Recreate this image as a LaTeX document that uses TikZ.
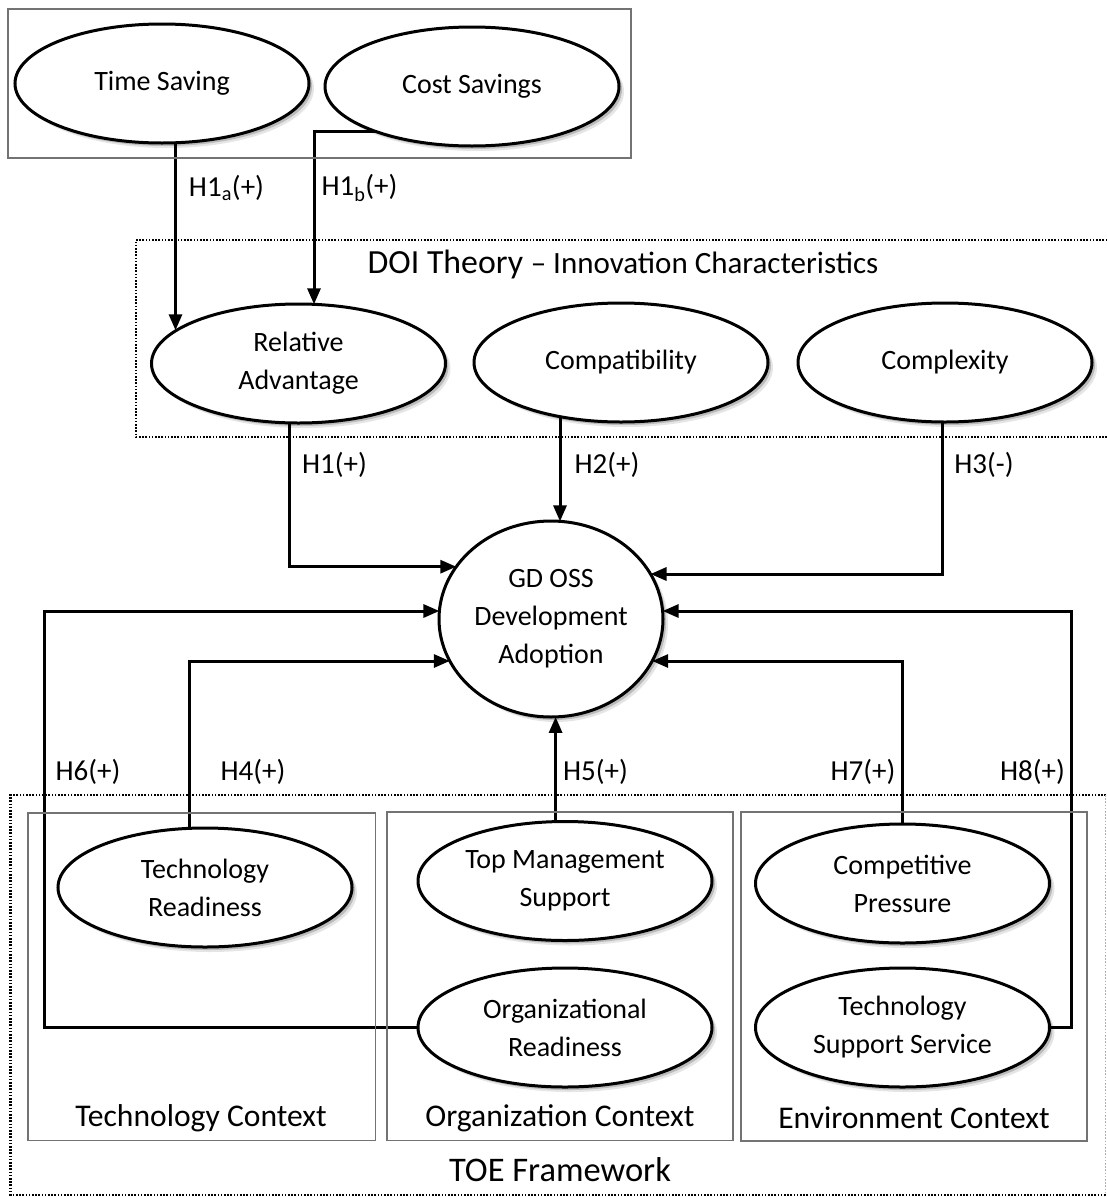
\documentclass[tikz,border=0pt]{standalone}
\usepackage{fontspec}
\setmainfont{Carlito}
\usetikzlibrary{shapes.geometric,arrows.meta,shadows,calc,backgrounds}
\begin{document}
\begin{tikzpicture}[x=1pt,y=-1pt,
  ell/.style={ellipse, draw, line width=3pt, fill=white, inner sep=0pt,
    minimum width=294pt, minimum height=119pt, align=center,
    font=\fontsize{28}{38}\selectfont,
    drop shadow={shadow xshift=5pt, shadow yshift=-5pt, opacity=0.10, fill=black},
    drop shadow={shadow xshift=3pt, shadow yshift=-3pt, opacity=0.18, fill=black}},
  arr/.style={line width=3pt, -{Triangle[length=16pt,width=13pt]}},
  lbl/.style={font=\fontsize{29}{32}\selectfont, inner sep=0pt},
  ctx/.style={draw=black!55, line width=1.8pt},
  dotbox/.style={draw=black, line width=2.6pt, dash pattern=on 1.6pt off 1.6pt},
  ctxlbl/.style={font=\fontsize{31.6}{34}\selectfont, inner sep=0pt}
]
\useasboundingbox (0,0) rectangle (1107,1197);

% frames
\draw[ctx] (8,9) rectangle (631,158);
\draw[dotbox] (1120,240) -- (136,240) -- (136,437) -- (1120,437);
\draw[dotbox] (1106,795) -- (10.6,795) -- (10.6,1195) -- (1106,1195);
\draw[draw=black!30, line width=1.6pt, dash pattern=on 1.6pt off 1.6pt] (1105.5,795) -- (1105.5,1195);
\draw[ctx] (28,813) rectangle (375.5,1140.5);
\draw[ctx] (387,812) rectangle (733,1140.5);
\draw[ctx] (741,812) rectangle (1087,1141);

% titles
\node[font=\fontsize{33.8}{36}\selectfont, inner sep=0pt] (doititle) at (623,264)
  {DOI Theory {\fontsize{31}{36}\selectfont – Innovation Characteristics}};
\node[ctxlbl] (tctx) at (201,1118) {Technology Context};
\node[ctxlbl] (octx) at (560,1118) {Organization Context};
\node[ctxlbl] (ectx) at (914,1118) {Environment Context};
\node[font=\fontsize{34.5}{36}\selectfont, inner sep=0pt] (toe) at (560,1170) {TOE Framework};

% ellipses
\node[ell] (TS) at (162,83.5) {Time Saving};
\node[ell] (CS) at (472,86.5) {Cost Savings};
\node[ell] (RA) at (298.5,363.5) {Relative\\Advantage};
\node[ell] (CP) at (621,362.5) {Compatibility};
\node[ell] (CX) at (945,362.5) {Complexity};
\node[ell, minimum width=224pt, minimum height=196pt] (GD) at (551,619) {GD OSS\\Development\\Adoption};
\node[ell] (TR) at (205,887.5) {Technology\\Readiness};
\node[ell] (TM) at (565,881) {Top Management\\Support};
\node[ell] (CPr) at (902.5,883.5) {Competitive\\Pressure};
\node[ell] (OR) at (565,1027.5) {Organizational\\Readiness};
\node[ell] (TSS) at (902.5,1027.5) {Technology\\Support Service};

% points on the target borders
\coordinate (ra1) at ($(RA.center)+(-121.5,-33.2)$);
\coordinate (ra2) at ($(RA.center)+(15.5,-59.2)$);
\coordinate (g1) at ($(GD.center)+(-94.7,-52.3)$);
\coordinate (g2) at ($(GD.center)+(9,-97.6)$);
\coordinate (g3) at ($(GD.center)+(99.5,-45)$);
\coordinate (g6) at ($(GD.center)+(-111.6,-8)$);
\coordinate (g8) at ($(GD.center)+(111.6,-8)$);
\coordinate (g4) at ($(GD.center)+(-101.2,42)$);
\coordinate (g7) at ($(GD.center)+(101.2,42)$);
\coordinate (g5) at ($(GD.center)+(4.6,97.9)$);
\coordinate (h6x) at (44,611);
\coordinate (h8x) at (1071.5,611);

% connectors (behind the ellipses)
\begin{scope}[on background layer]
\fill[white] (0,0) rectangle (1107,1197);
\draw[arr] ($(TS.center)+(13.5,0)$) coordinate (s1) -- (s1 |- ra1);
\draw[arr] ($(CS.center)+(0,44.5)$) -| (ra2);
\draw[arr] ($(RA.center)+(-9,0)$) |- (g1);
\draw[arr] (CP.center -| g2) -- (g2);
\draw[arr] ($(CX.center)+(-2.5,0)$) |- (g3);
\draw[arr] ($(TR.center)+(-16,0)$) |- (g4);
\draw[arr] (TM.center -| g5) -- (g5);
\draw[arr] ($(CPr.center)+(-0.5,0)$) |- (g7);
\draw[arr] (OR.center) -- (OR.center -| h6x) |- (g6);
\draw[arr] (TSS.center) -- (TSS.center -| h8x) |- (g8);
\end{scope}

% labels
\node[lbl] (l1a) at (226.5,188) {H1\textsubscript{a}(+)};
\node[lbl] (l1b) at (359.5,188) {H1\textsubscript{b}(+)};
\node[lbl] (l1) at (334.5,465) {H1(+)};
\node[lbl] (l2) at (607,465) {H2(+)};
\node[lbl] (l3) at (984,465) {H3(-)};
\node[lbl] (l6) at (88,772) {H6(+)};
\node[lbl] (l4) at (253,772) {H4(+)};
\node[lbl] (l5) at (595.5,772) {H5(+)};
\node[lbl] (l7) at (863,772) {H7(+)};
\node[lbl] (l8) at (1032.5,772) {H8(+)};
\end{tikzpicture}
\end{document}
